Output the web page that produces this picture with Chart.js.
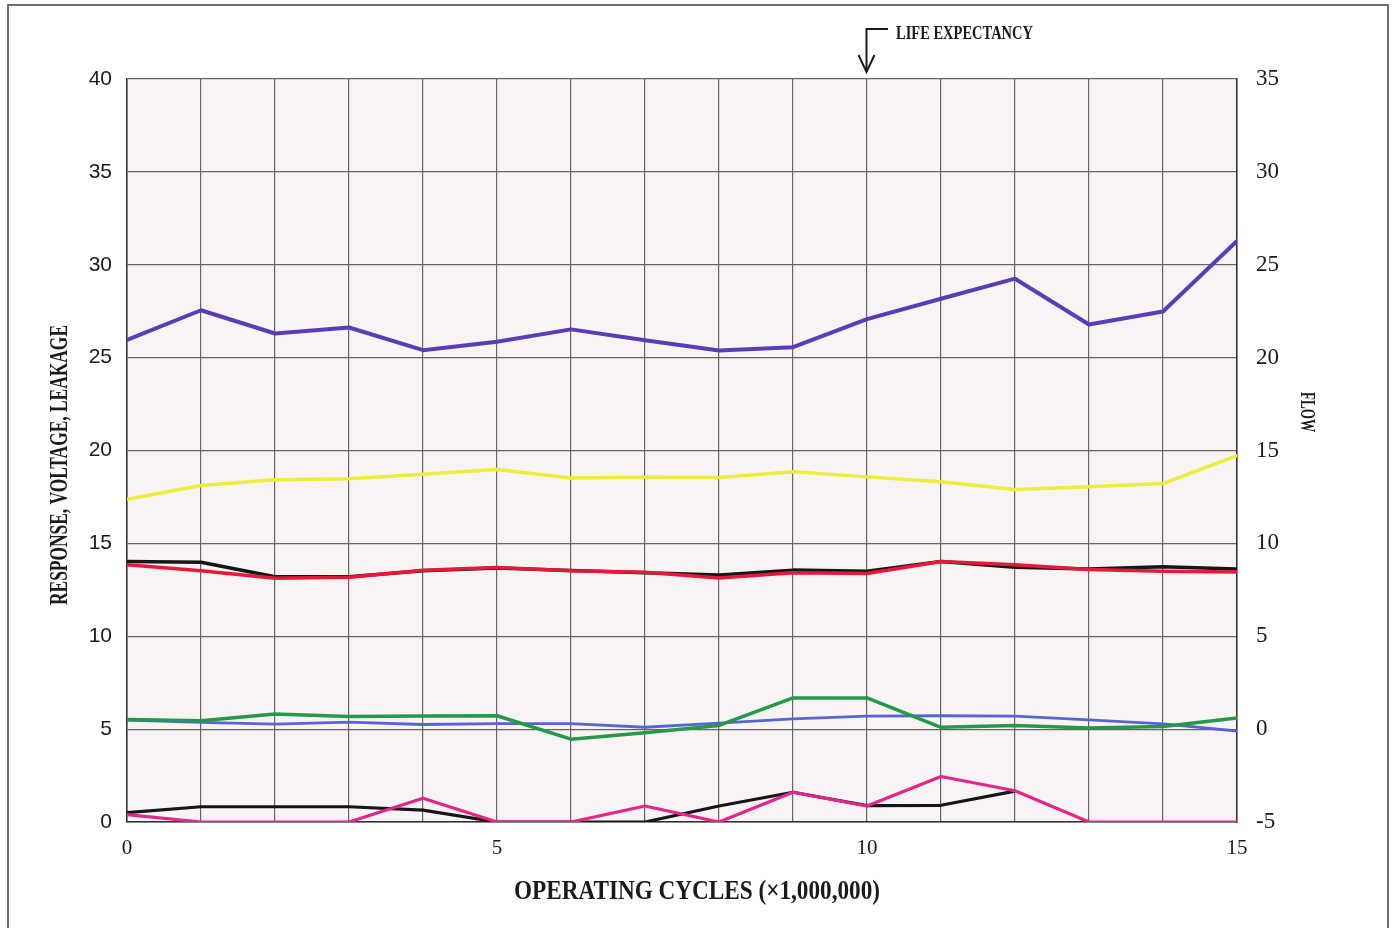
<!DOCTYPE html>
<html>
<head>
<meta charset="utf-8">
<script src="https://cdn.jsdelivr.net/npm/chart.js@4.4.1/dist/chart.umd.min.js"></script>
<style>
  html, body { margin: 0; padding: 0; background: #ffffff; }
  #wrap { width: 1400px; height: 928px; position: relative; }
  canvas { display: block; }
</style>
</head>
<body>
<div id="wrap"><canvas id="chart" width="1400" height="928"></canvas></div>
<script>
// Operating cycles (millions)
const cycles = [0, 1, 2, 3, 4, 5, 6, 7, 8, 9, 10, 11, 12, 13, 14, 15];

// Measured series
const responseA = [25.96, 27.55, 26.30, 26.62, 25.40, 25.85, 26.52, 25.94, 25.38, 25.56, 27.07, 28.17, 29.25, 26.78, 27.48, 31.28];
const voltageA  = [17.38, 18.12, 18.42, 18.48, 18.72, 18.98, 18.52, 18.56, 18.54, 18.85, 18.58, 18.32, 17.90, 18.05, 18.22, 19.73];
const voltageB  = [13.85, 13.52, 13.12, 13.18, 13.55, 13.70, 13.52, 13.44, 13.14, 13.42, 13.38, 14.02, 13.85, 13.60, 13.50, 13.46];
const voltageC  = [14.02, 13.98, 13.20, 13.20, 13.52, 13.68, 13.54, 13.42, 13.30, 13.56, 13.50, 14.02, 13.72, 13.62, 13.74, 13.62];
const responseB = [5.52, 5.45, 5.82, 5.68, 5.70, 5.72, 4.46, 4.80, 5.20, 6.68, 6.68, 5.10, 5.20, 5.06, 5.14, 5.60];
const flow      = [5.48, 5.36, 5.27, 5.38, 5.25, 5.30, 5.30, 5.10, 5.32, 5.55, 5.70, 5.72, 5.70, 5.50, 5.28, 4.90];
const leakageA  = [0.40, 0.00, 0.00, 0.00, 1.28, 0.00, 0.00, 0.86, 0.00, 1.60, 0.86, 2.45, 1.68, 0.00, 0.00, 0.00];
const leakageB  = [0.50, 0.82, 0.82, 0.82, 0.64, 0.00, 0.00, 0.00, 0.86, 1.60, 0.88, 0.90, 1.66, null, null, null];

// Axis ranges and tick steps
const leftTicks  = { min: 0, max: 40, step: 5 };
const rightTicks = { min: -5, max: 35, step: 5 };
const xTicks     = { min: 0, max: 15, step: 1, labelEvery: 5 };
const lifeExpectancyAt = 10;

const pts = (vals) => cycles.map((c, i) => ({ x: c, y: vals[i] }));

const line = (label, vals, color, width) => ({
  label, data: pts(vals), borderColor: color, backgroundColor: color,
  borderWidth: width, pointRadius: 0, tension: 0, spanGaps: false,
  yAxisID: 'y', borderJoinStyle: 'round', borderCapStyle: 'round'
});

// Condensed text helper
function condensedText(ctx, text, cx, cy, targetW, font, rot) {
  ctx.save();
  ctx.translate(cx, cy);
  ctx.rotate(rot);
  ctx.font = font;
  const w = ctx.measureText(text).width;
  ctx.scale(targetW / w, 1);
  ctx.textAlign = 'center';
  ctx.textBaseline = 'middle';
  ctx.fillStyle = '#1a1a1a';
  ctx.fillText(text, 0, 0);
  ctx.restore();
}

const decor = {
  id: 'decor',
  beforeDraw(chart) {
    const { ctx, chartArea: a } = chart;
    ctx.save();
    ctx.fillStyle = '#ffffff';
    ctx.fillRect(0, 0, chart.width, chart.height);
    ctx.fillStyle = '#f8f4f3';
    ctx.fillRect(a.left, a.top, a.right - a.left, a.bottom - a.top);
    // outer frame
    ctx.strokeStyle = '#6e6e6e';
    ctx.lineWidth = 2;
    ctx.strokeRect(8, 5, 1380, 930);
    ctx.restore();
  },
  afterDraw(chart) {
    const { ctx } = chart;
    const serif = "'Liberation Serif', 'DejaVu Serif', serif";
    condensedText(ctx, 'OPERATING CYCLES (\u00d71,000,000)', 697, 892, 366, '600 28px ' + serif, 0);
    condensedText(ctx, 'RESPONSE, VOLTAGE, LEAKAGE', 61, 465, 280, '600 25px ' + serif, -Math.PI / 2);
    condensedText(ctx, 'FLOW', 1306, 412, 40, '600 21px ' + serif, Math.PI / 2);

    // life expectancy marker
    const xm = Math.round(chart.scales.x.getPixelForValue(lifeExpectancyAt)) - 0.5;
    ctx.save();
    ctx.strokeStyle = '#1a1a1a';
    ctx.lineWidth = 2;
    ctx.beginPath();
    ctx.moveTo(888, 29);
    ctx.lineTo(xm, 29);
    ctx.lineTo(xm, 72);
    ctx.stroke();
    ctx.beginPath();
    ctx.moveTo(xm - 8, 55);
    ctx.lineTo(xm, 72);
    ctx.lineTo(xm + 8, 55);
    ctx.stroke();
    ctx.restore();
    ctx.save();
    ctx.font = 'bold 18px ' + serif;
    const t = 'LIFE EXPECTANCY';
    const w = ctx.measureText(t).width;
    ctx.translate(896, 34);
    ctx.scale(137 / w, 1);
    ctx.textAlign = 'left';
    ctx.textBaseline = 'middle';
    ctx.fillStyle = '#1a1a1a';
    ctx.fillText(t, 0, 0);
    ctx.restore();
  }
};

const gridColor = '#666666';

new Chart(document.getElementById('chart'), {
  type: 'line',
  data: {
    datasets: [
      line('Response A', responseA, '#5a3db6', 4),
      line('Voltage A', voltageA, '#eeec3c', 3.5),
      line('Voltage B', voltageB, '#e8183c', 3.5),
      line('Voltage C', voltageC, '#161616', 3.5),
      line('Response B', responseB, '#26984a', 3.5),
      line('Flow', flow, '#5566d4', 2.8),
      line('Leakage A', leakageA, '#e4268c', 3.2),
      line('Leakage B', leakageB, '#161616', 3.2)
    ]
  },
  options: {
    responsive: false,
    devicePixelRatio: 1,
    animation: false,
    layout: { padding: { top: 79, left: 0, right: 0, bottom: 0 } },
    plugins: { legend: { display: false }, tooltip: { enabled: false }, title: { display: false } },
    scales: {
      x: {
        type: 'linear', position: 'bottom',
        min: xTicks.min, max: xTicks.max,
        afterFit: (s) => { s.height = 106; },
        afterBuildTicks: (s) => {
          const t = [];
          for (let v = xTicks.min; v <= xTicks.max; v += xTicks.step) t.push({ value: v });
          s.ticks = t;
        },
        ticks: {
          autoSkip: false, maxRotation: 0, padding: 14, color: '#1a1a1a',
          font: { family: "'Liberation Serif', serif", size: 21 }
        ,
          callback: (v) => (v % xTicks.labelEvery === 0 ? String(v) : '')
        },
        grid: { color: gridColor, lineWidth: 1.2, drawTicks: false },
        border: { display: true, color: '#333333', width: 1.5 }
      },
      y: {
        position: 'left', min: leftTicks.min, max: leftTicks.max,
        afterFit: (s) => { s.width = 127; },
        ticks: {
          stepSize: leftTicks.step, padding: 15, color: '#1a1a1a',
          font: { family: "'Liberation Sans', Arial, sans-serif", size: 21 }
        },
        grid: { color: gridColor, lineWidth: 1.2, drawTicks: false },
        border: { display: true, color: '#333333', width: 1.5 }
      },
      y2: {
        position: 'right', min: rightTicks.min, max: rightTicks.max,
        afterFit: (s) => { s.width = 163; },
        ticks: {
          stepSize: rightTicks.step, padding: 19, color: '#1a1a1a',
          font: { family: "'Liberation Serif', serif", size: 23 }
        },
        grid: { drawOnChartArea: false, drawTicks: false },
        border: { display: true, color: '#333333', width: 1.5 }
      }
    }
  },
  plugins: [decor]
});
</script>
</body>
</html>
